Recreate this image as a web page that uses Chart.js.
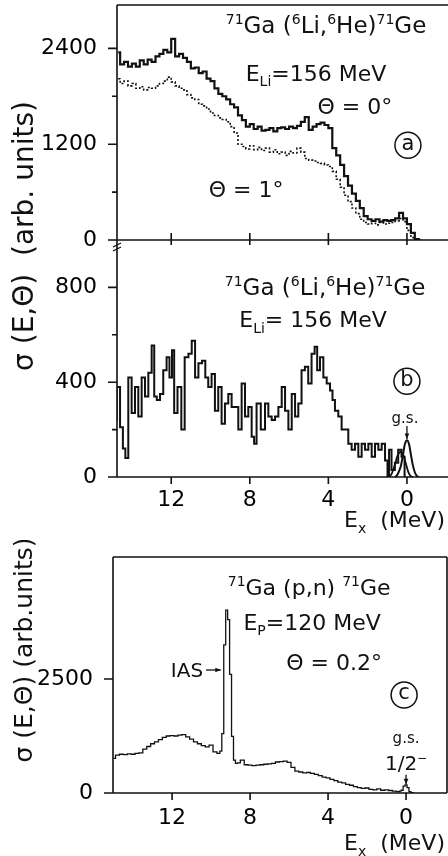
<!DOCTYPE html>
<html>
<head>
<meta charset="utf-8">
<script src="https://cdn.jsdelivr.net/npm/chart.js@4.4.0/dist/chart.umd.min.js"></script>
<style>
  html, body { margin: 0; padding: 0; background: #fff; }
  #wrap { position: relative; width: 448px; height: 856px; overflow: hidden; }
  canvas { position: absolute; left: 0; }
  #cA { top: 0; width: 448px; height: 250px; }
  #cB { top: 0; width: 448px; height: 540px; }
  #cC { top: 540px; width: 448px; height: 316px; }
</style>
</head>
<body>
<div id="wrap">
  <canvas id="cA" width="448" height="250"></canvas>
  <canvas id="cB" width="448" height="540"></canvas>
  <canvas id="cC" width="448" height="316"></canvas>
</div>
<script>
// ---- data ----
// panel a: 71Ga(6Li,6He) spectra, 0.2 MeV bins
const energyA = [14.7,14.5,14.3,14.1,13.9,13.7,13.5,13.3,13.1,12.9,
  12.7,12.5,12.3,12.1,11.9,11.7,11.5,11.3,11.1,10.9,
  10.7,10.5,10.3,10.1,9.9,9.7,9.5,9.3,9.1,8.9,
  8.7,8.5,8.3,8.1,7.9,7.7,7.5,7.3,7.1,6.9,
  6.7,6.5,6.3,6.1,5.9,5.7,5.5,5.3,5.1,4.9,
  4.7,4.5,4.3,4.1,3.9,3.7,3.5,3.3,3.1,2.9,
  2.7,2.5,2.3,2.1,1.9,1.7,1.5,1.3,1.1,0.9,
  0.7,0.5,0.3,0.1,-0.1,-0.3,-0.5,-0.7];
const theta0 = [2350,2200,2230,2170,2210,2170,2250,2200,2260,2230,
  2300,2330,2380,2350,2520,2300,2330,2280,2230,2150,
  2160,2090,2110,2020,1990,1900,1830,1800,1760,1700,
  1660,1560,1500,1420,1450,1390,1420,1370,1380,1400,
  1360,1400,1410,1390,1420,1400,1430,1480,1540,1380,
  1420,1450,1470,1440,1400,1150,1060,940,800,680,
  580,490,400,300,260,240,260,230,250,240,
  250,270,340,270,200,90,10,0];
const theta1 = [2020,1960,1990,1930,1960,1900,1920,1880,1910,1900,
  1930,1960,1990,2040,1980,1930,1900,1880,1820,1780,
  1760,1700,1680,1640,1590,1560,1530,1510,1480,1420,
  1340,1200,1170,1140,1180,1130,1160,1120,1150,1100,
  1130,1080,1100,1060,1110,1090,1150,1100,1020,1000,
  990,970,960,940,920,860,760,660,560,480,
  400,330,260,220,200,210,190,220,200,210,
  220,240,270,230,120,30,0,0];

// panel b: difference spectrum + g.s. fit curves
const energyB = [14.86,14.69,14.52,14.40,14.27,14.10,13.93,13.76,13.59,13.42,
  13.25,13.08,12.91,12.82,12.65,12.49,12.32,12.15,12.03,11.89,
  11.81,11.55,11.42,11.21,11.04,10.87,10.70,10.53,10.33,10.20,
  10.03,9.86,9.69,9.52,9.35,9.18,9.01,8.84,8.67,8.50,
  8.33,8.16,7.99,7.82,7.74,7.57,7.31,7.14,6.97,6.80,
  6.63,6.46,6.29,6.12,5.95,5.78,5.61,5.45,5.28,5.11,
  4.94,4.77,4.63,4.51,4.34,4.17,4.00,3.83,3.75,3.58,
  3.41,3.24,3.07,2.90,2.73,2.56,2.39,2.22,2.05,1.88,
  1.71,1.54,1.37,1.20,1.03,0.95,0.87,0.70,0.53,0.36,
  0.19,0.05];
const diffB = [240,380,210,120,80,420,270,380,255,420,
  340,440,555,340,325,350,450,505,420,535,
  270,380,200,505,520,575,420,480,490,420,
  380,435,280,380,225,310,350,295,295,200,
  395,255,295,170,140,310,200,310,255,240,
  255,295,380,280,200,350,255,310,450,465,
  395,520,550,450,505,420,395,365,325,280,
  255,200,200,140,115,140,85,140,115,140,
  85,140,115,140,70,0,115,30,60,115,
  85,0];
const energyFit1 = [0.9,0.8,0.7,0.6,0.5,0.4,0.3,0.2,0.1,0.0,-0.1,-0.2,-0.3];
const fit1 = [0,10,30,55,85,102,105,95,70,40,15,3,0];
const energyFit2 = [0.6,0.5,0.4,0.3,0.2,0.1,0.0,-0.1,-0.2,-0.3,-0.4,-0.5,-0.6];
const fit2 = [0,8,25,50,95,140,155,140,95,50,20,5,0];

// panel c: 71Ga(p,n) spectrum
const energyC = [15.0,14.8,14.6,14.4,14.2,14.0,13.8,13.6,13.4,13.2,
  13.0,12.8,12.6,12.4,12.2,12.0,11.8,11.6,11.4,11.2,
  11.0,10.8,10.6,10.4,10.2,10.0,9.8,9.6,
  9.5,9.4,9.3,9.2,9.1,9.0,8.9,8.8,8.7,8.6,
  8.4,8.2,8.0,7.8,7.6,7.4,7.2,7.0,6.8,6.6,
  6.4,6.2,6.0,5.8,5.6,5.4,5.2,5.0,4.8,4.6,
  4.4,4.2,4.0,3.8,3.6,3.4,3.2,3.0,2.8,2.6,
  2.4,2.2,2.0,1.8,1.6,1.4,1.2,1.0,0.8,0.6,
  0.4,0.3,0.2,0.1,0.0,-0.1,-0.2,-0.3,-0.4];
const pnC = [760,830,850,840,860,850,870,880,960,1020,
  1080,1120,1170,1220,1250,1260,1250,1270,1280,1230,
  1180,1120,1080,1040,1010,1050,900,870,
  920,1300,3250,4010,3800,2600,1240,720,650,660,
  720,620,610,600,610,620,630,640,650,680,
  690,700,670,560,480,460,440,450,430,410,
  380,350,330,300,270,240,220,190,170,140,
  120,100,110,80,70,90,60,70,55,40,
  30,40,60,150,180,120,30,10,0];

// ticks
const xTickVals = [12, 8, 4, 0];
const yTicksA = [0, 600, 1200, 1800, 2400], yLabelsA = [0, 1200, 2400];
const yTicksB = [0, 200, 400, 600, 800], yLabelsB = [0, 400, 800];
const yTicksC = [0, 2500], yLabelsC = [0, 2500];

// ---- drawing helpers ----
const FONT = '"DejaVu Sans", sans-serif';
const INK = '#111';
Chart.defaults.color = '#000';
Chart.defaults.font.family = FONT;

const sup = t => ({ t, m: 'sup' });
const sub = t => ({ t, m: 'sub' });
const pts = (xs, ys) => xs.map((x, i) => ({ x, y: ys[i] }));

function richText(ctx, segs, x, y, size, align, rot) {
  const parts = segs.map(s => typeof s === 'string' ? { t: s, m: 'n' } : { ...s });
  let total = 0;
  parts.forEach(p => {
    p.fs = p.m === 'n' ? size : Math.round(size * 0.62);
    ctx.font = p.fs + 'px ' + FONT;
    p.w = ctx.measureText(p.t).width;
    total += p.w;
  });
  ctx.save();
  ctx.translate(x, y);
  if (rot) { ctx.rotate(-Math.PI / 2); ctx.textBaseline = 'middle'; }
  else ctx.textBaseline = 'alphabetic';
  let cx = align === 'right' ? -total : align === 'left' ? 0 : -total / 2;
  ctx.fillStyle = INK;
  parts.forEach(p => {
    ctx.font = p.fs + 'px ' + FONT;
    const dy = p.m === 'sup' ? -size * 0.42 : p.m === 'sub' ? size * 0.25 : 0;
    ctx.fillText(p.t, cx, dy);
    cx += p.w;
  });
  ctx.restore();
}

function arrowHead(ctx, x1, y1, x2, y2) {
  ctx.beginPath(); ctx.moveTo(x1, y1); ctx.lineTo(x2, y2); ctx.stroke();
  const ang = Math.atan2(y2 - y1, x2 - x1), h = 6;
  ctx.beginPath();
  ctx.moveTo(x2, y2);
  ctx.lineTo(x2 - h * Math.cos(ang - 0.4), y2 - h * Math.sin(ang - 0.4));
  ctx.lineTo(x2 - h * Math.cos(ang + 0.4), y2 - h * Math.sin(ang + 0.4));
  ctx.closePath(); ctx.fill();
}

function panelPlugin(cfg) {
  return {
    id: 'panel',
    afterDraw(chart) {
      const ctx = chart.ctx, a = chart.chartArea;
      const xs = chart.scales.x, ys = chart.scales.y;
      ctx.save();
      ctx.strokeStyle = INK; ctx.fillStyle = INK; ctx.lineWidth = 1.6;
      ctx.beginPath();
      if (cfg.frame.includes('t')) { ctx.moveTo(a.left, a.top); ctx.lineTo(a.right, a.top); }
      if (cfg.frame.includes('r')) { ctx.moveTo(a.right, a.top); ctx.lineTo(a.right, a.bottom); }
      if (cfg.frame.includes('b')) { ctx.moveTo(a.left, a.bottom); ctx.lineTo(a.right, a.bottom); }
      if (cfg.frame.includes('l')) { ctx.moveTo(a.left, a.top); ctx.lineTo(a.left, a.bottom); }
      // y ticks (outward)
      cfg.yTicks.forEach(v => {
        const y = ys.getPixelForValue(v);
        const len = cfg.yLabels.includes(v) ? 9 : 5;
        ctx.moveTo(a.left - len, y); ctx.lineTo(a.left, y);
      });
      // x ticks
      cfg.xMarks.forEach(m => {
        const y0 = m.edge === 'top' ? a.top : a.bottom;
        xTickVals.forEach(v => {
          const x = xs.getPixelForValue(v);
          ctx.moveTo(x, y0); ctx.lineTo(x, y0 + m.dir * m.len);
        });
      });
      ctx.stroke();

      // axis break marks
      if (cfg.breakMark) {
        ctx.lineWidth = 1.3;
        ctx.beginPath();
        ctx.moveTo(a.left - 4, a.top + 7); ctx.lineTo(a.left + 4, a.top + 3);
        ctx.moveTo(a.left - 4, a.top + 11); ctx.lineTo(a.left + 4, a.top + 7);
        ctx.stroke();
      }

      (cfg.texts || []).forEach(t => {
        const x = t.px !== undefined ? t.px : xs.getPixelForValue(t.e);
        const y = t.py !== undefined ? t.py : ys.getPixelForValue(t.v);
        richText(ctx, t.segs, x, y, t.size || 22, t.align || 'center', t.rot);
      });

      (cfg.circles || []).forEach(c => {
        const x = xs.getPixelForValue(c.e), y = ys.getPixelForValue(c.v);
        ctx.lineWidth = 1.5;
        ctx.beginPath(); ctx.arc(x, y, 13, 0, Math.PI * 2); ctx.stroke();
        ctx.font = '21px ' + FONT; ctx.textAlign = 'center'; ctx.textBaseline = 'middle';
        ctx.fillText(c.label, x, y - 1);
        ctx.textAlign = 'start';
      });

      ctx.lineWidth = 1.3;
      (cfg.arrows || []).forEach(r => {
        arrowHead(ctx, xs.getPixelForValue(r.e1), ys.getPixelForValue(r.v1),
                       xs.getPixelForValue(r.e2), ys.getPixelForValue(r.v2));
      });
      ctx.restore();
    }
  };
}

function baseOptions(o) {
  return {
    responsive: false,
    animation: false,
    devicePixelRatio: 1,
    layout: { padding: o.padding },
    plugins: { legend: { display: false }, tooltip: { enabled: false } },
    elements: { point: { radius: 0 } },
    scales: {
      x: {
        type: 'linear', reverse: true, min: o.xMin, max: o.xMax,
        display: o.xShow,
        grid: { display: false, drawTicks: false },
        border: { display: false },
        afterBuildTicks: s => { s.ticks = xTickVals.map(v => ({ value: v })); },
        afterFit: s => { s.height = o.xHeight; s.paddingLeft = 0; s.paddingRight = 0; },
        ticks: { autoSkip: false, maxRotation: 0, padding: o.xPad, font: { size: 22, family: FONT }, color: '#000' }
      },
      y: {
        type: 'linear', min: 0, max: o.yMax,
        grid: { display: false, drawTicks: false },
        border: { display: false },
        afterBuildTicks: s => { s.ticks = o.yTicks.map(v => ({ value: v })); },
        afterFit: s => { s.width = o.yWidth; s.paddingTop = 0; s.paddingBottom = 0; },
        ticks: {
          autoSkip: false, padding: 20, font: { size: 22, family: FONT }, color: '#000',
          callback: v => o.yLabels.includes(v) ? String(v) : ''
        }
      }
    }
  };
}

const titleLi = [sup('71'), 'Ga (', sup('6'), 'Li,', sup('6'), 'He)', sup('71'), 'Ge'];

// ---- panel a ----
new Chart(document.getElementById('cA'), {
  type: 'line',
  data: {
    datasets: [
      { data: pts(energyA, theta0), borderColor: INK, borderWidth: 2.2, stepped: 'middle' },
      { data: pts(energyA, theta1), borderColor: INK, borderWidth: 1.6, borderDash: [2, 2], stepped: 'middle' }
    ]
  },
  options: baseOptions({
    padding: { top: 5, bottom: 10, left: 0, right: 0 },
    xMin: -2.09, xMax: 14.76, xShow: false, xHeight: 0, xPad: 0,
    yMax: 2943, yTicks: yTicksA, yLabels: yLabelsA, yWidth: 117
  }),
  plugins: [panelPlugin({
    frame: 'tbl',
    yTicks: yTicksA, yLabels: yLabelsA,
    xMarks: [{ edge: 'bottom', dir: -1, len: 7 }],
    texts: [
      { e: 4.12, v: 2589, size: 23, segs: titleLi },
      { e: 4.63, v: 1995, segs: ['E', sub('Li'), '=156 MeV'] },
      { e: 2.65, v: 1579, segs: ['Θ = 0°'] },
      { e: 8.19, v: 543, segs: ['Θ = 1°'] }
    ],
    circles: [{ e: -0.05, v: 1187, label: 'a' }]
  })]
});

// ---- panel b ----
new Chart(document.getElementById('cB'), {
  type: 'line',
  data: {
    datasets: [
      { data: pts(energyB, diffB), borderColor: INK, borderWidth: 2, stepped: 'middle' },
      { data: pts(energyFit1, fit1), borderColor: INK, borderWidth: 1.8, tension: 0.4 },
      { data: pts(energyFit2, fit2), borderColor: INK, borderWidth: 2, tension: 0.4 }
    ]
  },
  options: baseOptions({
    padding: { top: 240, bottom: 0, left: 0, right: 0 },
    xMin: -2.09, xMax: 14.76, xShow: true, xHeight: 63, xPad: 10,
    yMax: 1000, yTicks: yTicksB, yLabels: yLabelsB, yWidth: 117
  }),
  plugins: [panelPlugin({
    frame: 'bl',
    breakMark: true,
    yTicks: yTicksB, yLabels: yLabelsB,
    xMarks: [{ edge: 'top', dir: 1, len: 5 }, { edge: 'bottom', dir: 1, len: 7 }],
    texts: [
      { e: 4.17, v: 766, size: 23, segs: titleLi },
      { e: 4.78, v: 632, segs: ['E', sub('Li'), '= 156 MeV'] },
      { e: 0.1, v: 227, segs: ['g.s.'], size: 15 },
      { px: 445, py: 527, align: 'right', segs: ['E', sub('x'), '  (MeV)'] },
      { px: 26, py: 236, rot: true, size: 28, segs: ['σ (E,Θ)  (arb. units)'] }
    ],
    circles: [{ e: 0, v: 404, label: 'b' }],
    arrows: [{ e1: 0, v1: 215, e2: 0, v2: 160 }]
  })]
});

// ---- panel c ----
new Chart(document.getElementById('cC'), {
  type: 'line',
  data: {
    datasets: [
      { data: pts(energyC, pnC), borderColor: INK, borderWidth: 1.3, stepped: 'middle' }
    ]
  },
  options: baseOptions({
    padding: { top: 17, bottom: 0, left: 0, right: 1 },
    xMin: -2.1, xMax: 15.03, xShow: true, xHeight: 63, xPad: 12,
    yMax: 5175, yTicks: yTicksC, yLabels: yLabelsC, yWidth: 113
  }),
  plugins: [panelPlugin({
    frame: 'trbl',
    yTicks: yTicksC, yLabels: yLabelsC,
    xMarks: [{ edge: 'bottom', dir: 1, len: 7 }],
    texts: [
      { e: 4.97, v: 4342, segs: [sup('71'), 'Ga (p,n) ', sup('71'), 'Ge'] },
      { e: 4.82, v: 3575, segs: ['E', sub('P'), '=120 MeV'] },
      { e: 3.69, v: 2697, segs: ['Θ = 0.2°'] },
      { e: 10.41, v: 2544, align: 'right', size: 20, segs: ['IAS'] },
      { e: 0, v: 1096, segs: ['g.s.'], size: 15 },
      { e: 0, v: 504, size: 20, segs: ['1/2', sup('−')] },
      { px: 445, py: 310, align: 'right', segs: ['E', sub('x'), '  (MeV)'] },
      { px: 25, py: 110, rot: true, size: 25, segs: ['σ (E,Θ) (arb.units)'] }
    ],
    circles: [{ e: 0.1, v: 2149, label: 'c' }],
    arrows: [
      { e1: 10.26, v1: 2697, e2: 9.5, v2: 2697 },
      { e1: 0, v1: 400, e2: 0, v2: 190 }
    ]
  })]
});
</script>
</body>
</html>
